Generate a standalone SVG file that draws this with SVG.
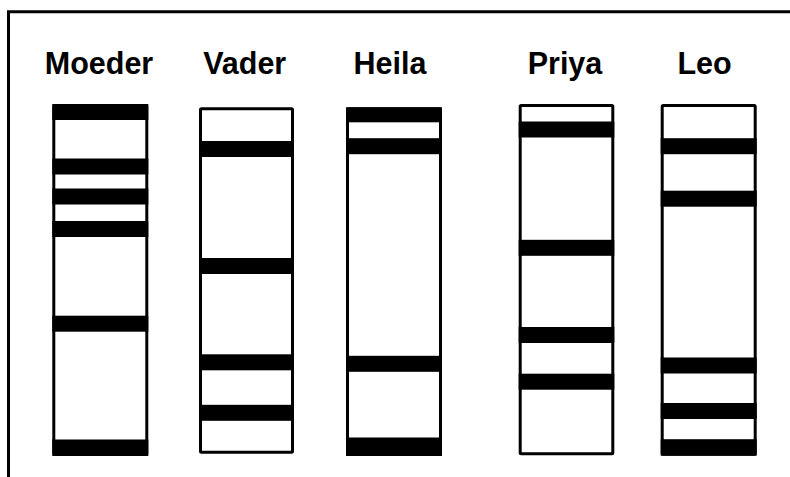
<svg xmlns="http://www.w3.org/2000/svg" width="790" height="477" viewBox="0 0 790 477">
<style>
.lane{fill:#fff;stroke:#000;stroke-width:3;}
.band{fill:#000;}
.lbl{font-family:"Liberation Sans",Arial,sans-serif;font-weight:bold;font-size:30.5px;fill:#000;text-anchor:middle;}
.frame{fill:none;stroke:#000;stroke-width:3;}
</style>
<rect width="790" height="477" fill="#fff"/>
<path class="frame" d="M8.5,477 V11.7 H790"/>
<g id="moeder">
<text class="lbl" x="99" y="74">Moeder</text>
<rect class="lane" x="53.8" y="105.5" width="93" height="349" rx="1"/>
<rect class="band" x="52.3" y="104" width="96" height="16"/>
<rect class="band" x="52.3" y="158.5" width="96" height="16"/>
<rect class="band" x="52.3" y="188.5" width="96" height="16"/>
<rect class="band" x="52.3" y="221" width="96" height="16"/>
<rect class="band" x="52.3" y="315.7" width="96" height="16"/>
<rect class="band" x="52.3" y="439.5" width="96" height="16.5"/>
</g>
<g id="vader">
<text class="lbl" x="244.7" y="74">Vader</text>
<rect class="lane" x="200.5" y="108.8" width="92" height="343.4" rx="1"/>
<rect class="band" x="199" y="141" width="95" height="16"/>
<rect class="band" x="199" y="258" width="95" height="16"/>
<rect class="band" x="199" y="354.3" width="95" height="16"/>
<rect class="band" x="199" y="404.8" width="95" height="16"/>
</g>
<g id="heila">
<text class="lbl" x="390" y="74">Heila</text>
<rect class="lane" x="347.5" y="108.8" width="93" height="345.7" rx="1"/>
<rect class="band" x="346" y="107.3" width="96" height="15"/>
<rect class="band" x="346" y="138.2" width="96" height="16"/>
<rect class="band" x="346" y="355.8" width="96" height="16"/>
<rect class="band" x="346" y="437.5" width="96" height="18.5"/>
</g>
<g id="priya">
<text class="lbl" x="565" y="74">Priya</text>
<rect class="lane" x="520.2" y="105.5" width="92.6" height="348.3" rx="1"/>
<rect class="band" x="518.7" y="121.5" width="95.6" height="16"/>
<rect class="band" x="518.7" y="239.8" width="95.6" height="16"/>
<rect class="band" x="518.7" y="327" width="95.6" height="16"/>
<rect class="band" x="518.7" y="373.7" width="95.6" height="16"/>
</g>
<g id="leo">
<text class="lbl" x="704.5" y="74">Leo</text>
<rect class="lane" x="662.2" y="105.5" width="93" height="348.7" rx="1"/>
<rect class="band" x="660.7" y="138.2" width="96" height="16"/>
<rect class="band" x="660.7" y="190.7" width="96" height="16"/>
<rect class="band" x="660.7" y="357.5" width="96" height="16"/>
<rect class="band" x="660.7" y="403" width="96" height="16"/>
<rect class="band" x="660.7" y="439.2" width="96" height="16.5"/>
</g>
<g id="connectors"></g>
</svg>
